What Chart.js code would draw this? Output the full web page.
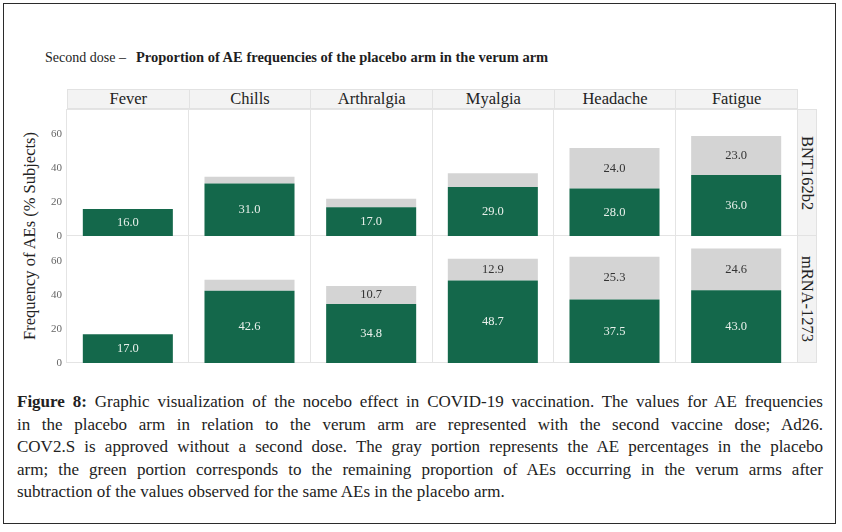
<!DOCTYPE html>
<html>
<head>
<meta charset="utf-8">
<script src="https://cdn.jsdelivr.net/npm/chart.js@4.4.0/dist/chart.umd.min.js"></script>
<style>
  body { margin: 0; width: 842px; height: 532px; background: #fff; position: relative; overflow: hidden;
         font-family: "Liberation Serif", "DejaVu Serif", serif; color: #222; }
  #frame { position: absolute; left: 3px; top: 3px; width: 831px; height: 519px; border: 1.5px solid #2b2b2b; }
  #title { position: absolute; left: 45px; top: 49px; font-size: 14px; white-space: nowrap; color: #1e1e1e; }
  #title b { margin-left: 10px; font-size: 14.5px; }
  .strip { position: absolute; top: 89px; height: 20px; background: #f3f3f3; border: 1px solid #e2e2e2;
           box-sizing: border-box; text-align: center; font-size: 16.5px; line-height: 18px; }
  .rstrip { position: absolute; left: 797px; width: 20px; background: #f3f3f3; border: 1px solid #e2e2e2; box-sizing: border-box; }
  .rstrip span { position: absolute; left: 50%; top: 50%; transform: translate(-50%, -50%) rotate(90deg);
                 white-space: nowrap; font-size: 16.5px; }
  #ytitle { position: absolute; left: 30px; top: 236px; transform: translate(-50%, -50%) rotate(-90deg);
            font-size: 16.5px; white-space: nowrap; }
  .panel { position: absolute; left: 67px; width: 730px; border-top: 1px solid #e4e4e4; border-bottom: 1px solid #e4e4e4; box-sizing: border-box; }
  .chartbox { position: absolute; left: 37px; width: 760px; }
  #caption { position: absolute; left: 17px; top: 391px; width: 806px; font-size: 17px; line-height: 22.5px; color: #222; }
  #caption div { text-align: justify; text-align-last: justify; }
  #caption div.last { text-align-last: left; }
</style>
</head>
<body>
<div id="frame"></div>
<div id="title">Second dose –<b>Proportion of AE frequencies of the placebo arm in the verum arm</b></div>
<div id="strips"></div>
<div class="rstrip" style="top:109px;height:127px"><span>BNT162b2</span></div>
<div class="rstrip" style="top:235px;height:128px"><span>mRNA-1273</span></div>
<div id="ytitle">Frequency of AEs (% Subjects)</div>

<div class="panel" style="top:109px;height:127px"></div>
<div class="panel" style="top:235px;height:128px"></div>
<div class="chartbox" style="top:109px;height:136px"><canvas id="bntChart"></canvas></div>
<div class="chartbox" style="top:236px;height:136px"><canvas id="mrnaChart"></canvas></div>

<div id="caption">
  <div><b>Figure 8:</b> Graphic visualization of the nocebo effect in COVID-19 vaccination. The values for AE frequencies</div>
  <div>in the placebo arm in relation to the verum arm are represented with the second vaccine dose; Ad26.</div>
  <div>COV2.S is approved without a second dose. The gray portion represents the AE percentages in the placebo</div>
  <div>arm; the green portion corresponds to the remaining proportion of AEs occurring in the verum arms after</div>
  <div class="last">subtraction of the values observed for the same AEs in the placebo arm.</div>
</div>

<script>
// dados
const categories = ['Fever', 'Chills', 'Arthralgia', 'Myalgia', 'Headache', 'Fatigue'];
const bntVerum = [16.0, 31.0, 17.0, 29.0, 28.0, 36.0];
const bntPlacebo = [0, 4.0, 5.0, 8.0, 24.0, 23.0];
const mrnaVerum = [17.0, 42.6, 34.8, 48.7, 37.5, 43.0];
const mrnaPlacebo = [0, 6.5, 10.7, 12.9, 25.3, 24.6];
const yTicks = [0, 20, 40, 60];

const GREEN = '#14684b';
const GRAY = '#d4d4d4';

// cabeçalhos das colunas
const strips = document.getElementById('strips');
const colW = 730 / categories.length;
categories.forEach((c, i) => {
    const d = document.createElement('div');
    d.className = 'strip';
    d.style.left = (67 + i * colW) + 'px';
    d.style.width = (colW + 1) + 'px';
    d.textContent = c;
    strips.appendChild(d);
});

// rótulos dentro das barras
const barLabels = {
    id: 'barLabels',
    afterDatasetsDraw(chart) {
        const ctx = chart.ctx;
        ctx.save();
        ctx.font = '12.5px "Liberation Serif"';
        ctx.textAlign = 'center';
        ctx.textBaseline = 'middle';
        chart.data.datasets.forEach((ds, di) => {
            chart.getDatasetMeta(di).data.forEach((bar, i) => {
                const v = ds.data[i];
                if (v < ds.minLabel) return;
                ctx.fillStyle = ds.labelColor;
                ctx.fillText(v.toFixed(1), bar.x, (bar.y + bar.base) / 2);
            });
        });
        ctx.restore();
    }
};

function makeChart(id, verum, placebo) {
    return new Chart(document.getElementById(id), {
        type: 'bar',
        data: {
            labels: categories,
            datasets: [{
                label: 'verum',
                data: verum,
                backgroundColor: GREEN,
                labelColor: '#e9f0eb',
                minLabel: 1
            }, {
                label: 'placebo',
                data: placebo,
                backgroundColor: GRAY,
                labelColor: '#333',
                minLabel: 10
            }]
        },
        options: {
            responsive: true,
            maintainAspectRatio: false,
            animation: false,
            layout: { padding: { top: 0, right: 0, bottom: 9, left: 0 } },
            datasets: { bar: { barPercentage: 0.74, categoryPercentage: 1, borderWidth: 0 } },
            plugins: { legend: { display: false }, tooltip: { enabled: false } },
            scales: {
                x: {
                    stacked: true,
                    ticks: { display: false },
                    grid: { display: true, offset: true, drawTicks: false, color: '#e4e4e4' },
                    border: { display: false },
                    afterFit: s => { s.height = 0; s.paddingLeft = 0; s.paddingRight = 0; }
                },
                y: {
                    stacked: true,
                    min: 0,
                    max: 75,
                    afterBuildTicks: s => { s.ticks = yTicks.map(v => ({ value: v })); },
                    ticks: { color: '#666', padding: 5, font: { family: 'Liberation Serif', size: 11 } },
                    grid: { display: false, drawTicks: false },
                    border: { display: false },
                    afterFit: s => { s.width = 30; s.paddingTop = 0; s.paddingBottom = 0; }
                }
            }
        },
        plugins: [barLabels]
    });
}

window.onload = function () {
    makeChart('bntChart', bntVerum, bntPlacebo);
    makeChart('mrnaChart', mrnaVerum, mrnaPlacebo);
};
</script>
</body>
</html>
